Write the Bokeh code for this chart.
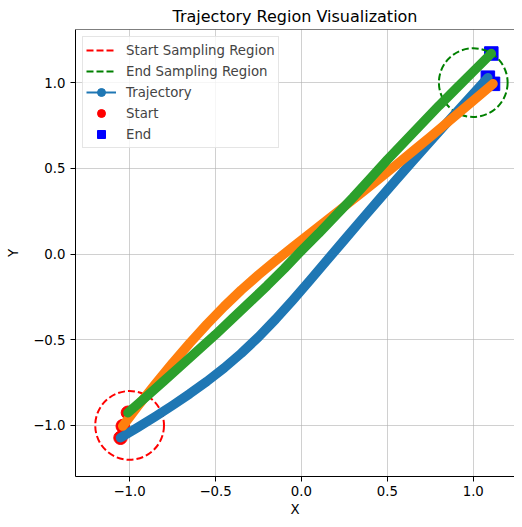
from bokeh.plotting import figure
from bokeh.models import Range1d, FixedTicker, Span, Legend, LegendItem
from bokeh.embed import file_html
from bokeh.resources import INLINE

FONT = "DejaVu Sans"

# ---- data ----
tick_values = [-1.0, -0.5, 0.0, 0.5, 1.0]
tick_labels = ["\u22121.0", "\u22120.5", "0.0", "0.5", "1.0"]

blue_x = [-1.053, -0.95, -0.85, -0.75, -0.65, -0.55, -0.45, -0.35, -0.25, -0.15, -0.05,
          0.05, 0.15, 0.25, 0.35, 0.45, 0.55, 0.65, 0.75, 0.85, 0.95, 1.085]
blue_y = [-1.072, -1.010, -0.948, -0.883, -0.815, -0.743, -0.665, -0.579, -0.484, -0.380, -0.269,
          -0.153, -0.035, 0.083, 0.200, 0.316, 0.431, 0.545, 0.658, 0.770, 0.880, 1.029]

orange_x = [-1.04, -0.95, -0.85, -0.75, -0.65, -0.55, -0.45, -0.35, -0.25, -0.15, -0.05,
            0.05, 0.15, 0.25, 0.35, 0.45, 0.55, 0.65, 0.75, 0.85, 0.95, 1.05, 1.115]
orange_y = [-1.004, -0.885, -0.758, -0.636, -0.520, -0.410, -0.306, -0.210, -0.122, -0.039, 0.041,
            0.120, 0.199, 0.278, 0.358, 0.438, 0.519, 0.601, 0.684, 0.768, 0.853, 0.938, 0.993]

green_x = [-1.01, -0.9, -0.8, -0.7, -0.6, -0.5, -0.4, -0.3, -0.2, -0.1, 0.0,
           0.1, 0.2, 0.3, 0.4, 0.5, 0.6, 0.7, 0.8, 0.9, 1.0, 1.105]
green_y = [-0.926, -0.83, -0.74, -0.65, -0.56, -0.47, -0.375, -0.28, -0.185, -0.085, 0.02,
           0.12, 0.225, 0.33, 0.44, 0.55, 0.655, 0.76, 0.865, 0.965, 1.065, 1.17]

start_x = [-1.053, -1.04, -1.01]
start_y = [-1.072, -1.004, -0.926]
end_x = [1.085, 1.115, 1.105]
end_y = [1.029, 0.993, 1.17]

start_region_center = (-1.0, -1.0)
end_region_center = (1.0, 1.0)
region_radius = 0.2

# ---- figure ----
p = figure(width=514, height=519, output_backend="svg", toolbar_location=None,
           x_range=Range1d(-1.315, 1.240), y_range=Range1d(-1.298, 1.31),
           min_border_left=75, min_border_right=0, min_border_top=29, min_border_bottom=42,
           title="Trajectory Region Visualization")
p.outline_line_color = None
p.background_fill_color = "white"

p.title.text_font = FONT
p.title.text_font_size = "16px"
p.title.text_font_style = "normal"
p.title.text_color = "black"
p.title.align = "center"
p.title.standoff = 7

for ax in (p.xaxis[0], p.yaxis[0]):
    ax.ticker = FixedTicker(ticks=tick_values)
    ax.major_label_overrides = dict(zip(tick_values, tick_labels))
    ax.major_label_text_font = FONT
    ax.major_label_text_font_size = "13.3px"
    ax.major_label_text_color = "black"
    ax.axis_label_text_font = FONT
    ax.axis_label_text_font_size = "13.3px"
    ax.axis_label_text_font_style = "normal"
    ax.axis_label_text_color = "black"
    ax.minor_tick_line_color = None
    ax.major_tick_in = 0
    ax.major_tick_out = 5
    ax.axis_line_color = "black"
    ax.major_tick_line_color = "black"

p.xaxis.major_label_standoff = 4
p.yaxis.major_label_standoff = 5
p.xaxis.axis_label = "X"
p.yaxis.axis_label = "Y"
p.xaxis.axis_label_standoff = 3
p.yaxis.axis_label_standoff = 9

p.xgrid.ticker = FixedTicker(ticks=tick_values)
p.ygrid.ticker = FixedTicker(ticks=tick_values)
p.grid.grid_line_color = "#b0b0b0"
p.grid.grid_line_alpha = 0.6
p.grid.grid_line_width = 1

p.add_layout(Span(location=1.31, dimension="width", line_color="black", line_width=1))

# start / end markers (under the trajectories)
start_r = p.scatter(start_x, start_y, marker="circle", size=13.5, color="red")
end_r = p.scatter(end_x, end_y, marker="square", size=13.5, color="blue")

# sampling regions
p.circle(x=[start_region_center[0]], y=[start_region_center[1]], radius=region_radius,
         fill_color=None, line_color="red", line_dash="7 3", line_width=2)
p.circle(x=[end_region_center[0]], y=[end_region_center[1]], radius=region_radius,
         fill_color=None, line_color="#008000", line_dash="7 3", line_width=2)

# trajectories
for xs, ys, c in ((blue_x, blue_y, "#1f77b4"), (orange_x, orange_y, "#ff7f0e"), (green_x, green_y, "#2ca02c")):
    p.line(xs, ys, line_width=9.5, color=c, line_cap="round", line_join="round")

# legend-only renderers placed off screen
leg_sr = p.line([10, 11], [10, 10], color="red", line_dash="7 3", line_width=2)
leg_er = p.line([10, 11], [10, 10], color="#008000", line_dash="7 3", line_width=2)
leg_tl = p.line([10, 11], [10, 10], color="#1f77b4", line_width=2)
leg_td = p.scatter([10], [10], marker="circle", size=9, color="#1f77b4")

legend = Legend(items=[
    LegendItem(label="Start Sampling Region", renderers=[leg_sr]),
    LegendItem(label="End Sampling Region", renderers=[leg_er]),
    LegendItem(label="Trajectory", renderers=[leg_tl, leg_td]),
    LegendItem(label="Start", renderers=[start_r]),
    LegendItem(label="End", renderers=[end_r]),
], location="top_left", margin=7, padding=3, spacing=1, glyph_width=30, glyph_height=20,
    label_height=20, label_standoff=10, label_text_font=FONT, label_text_font_size="13.3px",
    border_line_color="#cccccc", border_line_width=1, background_fill_alpha=0.8)
p.add_layout(legend)

open("out.html", "w").write(file_html(p, INLINE))
